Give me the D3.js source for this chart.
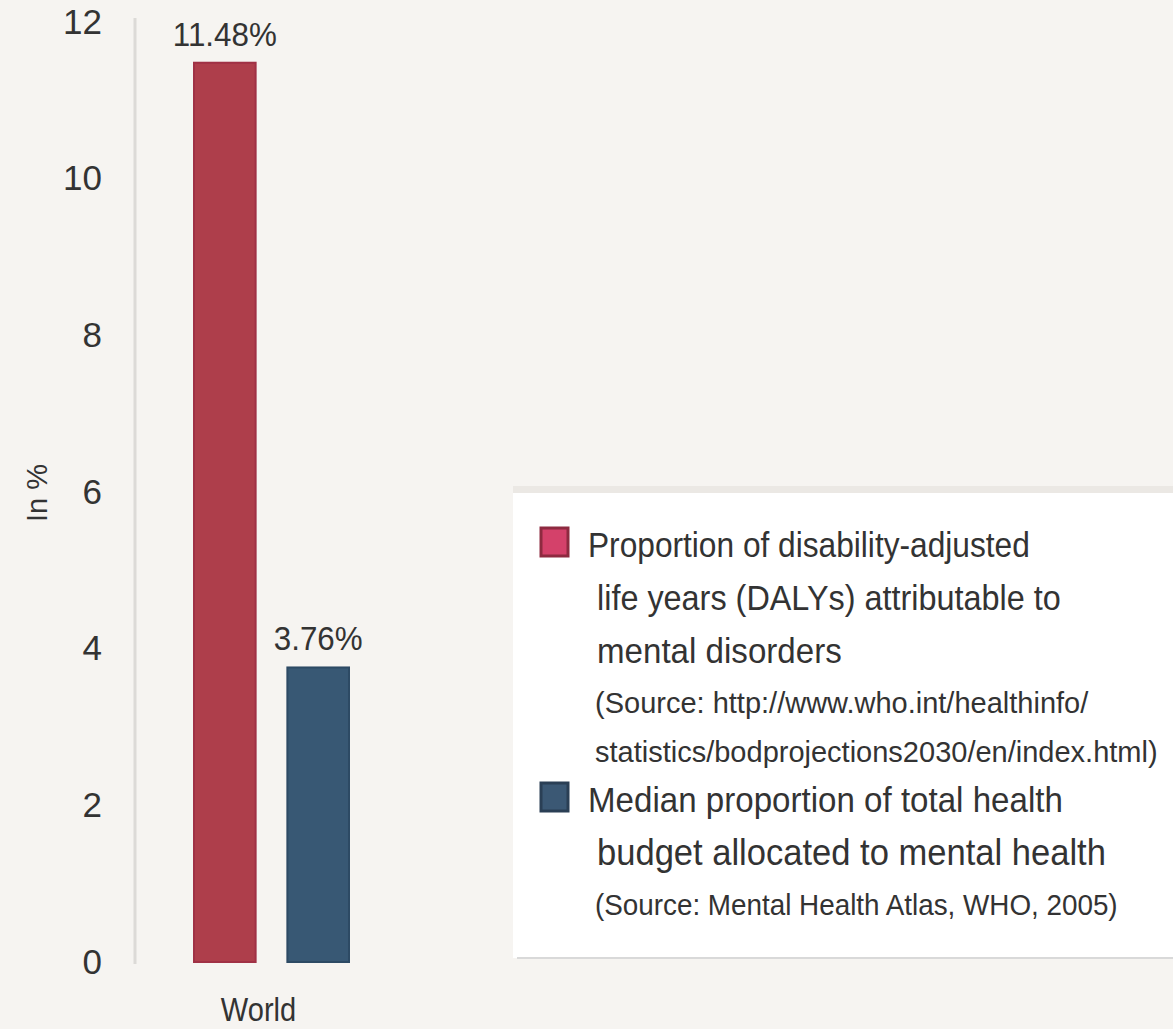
<!DOCTYPE html>
<html>
<head>
<meta charset="utf-8">
<script src="https://cdn.jsdelivr.net/npm/d3@7"></script>
<style>
  html, body { margin: 0; padding: 0; background: #f6f4f1; }
  svg { display: block; }
  text { font-family: 'Liberation Sans', Arial, sans-serif; fill: #333; }
</style>
</head>
<body>
<svg id="chart" width="1173" height="1029"></svg>
<script>
// Data
const categories = ["World"];
const seriesKeys = ["dalys", "budget"];
const dalysValues = [11.48];   // % of DALYs attributable to mental disorders
const budgetValues = [3.76];   // median % of health budget spent on mental health
const yTickValues = [0, 2, 4, 6, 8, 10, 12];
const yAxisTitle = "In %";

const legendDalysLines = ["Proportion of disability-adjusted", "life years (DALYs) attributable to", "mental disorders"];
const legendDalysSource = ["(Source: http://www.who.int/healthinfo/", "statistics/bodprojections2030/en/index.html)"];
const legendBudgetLines = ["Median proportion of total health", "budget allocated to mental health"];
const legendBudgetSource = ["(Source: Mental Health Atlas, WHO, 2005)"];

const colors = { dalys: "#ae3e4b", budget: "#385874" };
const edgeColors = { dalys: "#a03145", budget: "#2d4a64" };

const svg = d3.select("#chart");

// Condensed-looking text: squeeze glyphs horizontally
function squeezed(sel, x, y, sx) {
  return sel.attr("transform", `translate(${x},${y}) scale(${sx},1)`);
}

// Scales
const y = d3.scaleLinear().domain([0, 12]).range([962, 22]);
const x0 = d3.scaleBand().domain(categories).range([194, 349]);
const x1 = d3.scaleBand().domain(seriesKeys).range([0, x0.bandwidth()]).paddingInner(0.34);

const rows = categories.map((c, i) => ({ category: c, dalys: dalysValues[i], budget: budgetValues[i] }));

// Y axis: vertical rule plus tick labels
svg.append("line")
  .attr("x1", 135).attr("x2", 135)
  .attr("y1", y(12) - 4).attr("y2", y(0) + 2)
  .attr("stroke", "#dcdad7").attr("stroke-width", 3);

const yAxis = svg.append("g")
  .attr("transform", "translate(135,0)")
  .call(d3.axisLeft(y).tickValues(yTickValues).tickSize(0).tickPadding(33).tickFormat(d3.format("d")));
yAxis.select(".domain").remove();
yAxis.selectAll("text")
  .style("font-family", "'Liberation Sans', Arial, sans-serif")
  .style("font-size", "35px").attr("fill", "#333");

svg.append("text")
  .attr("transform", "translate(47,493) rotate(-90)")
  .attr("text-anchor", "middle")
  .style("font-size", "29px")
  .text(yAxisTitle);

// Bars
const groups = svg.selectAll("g.cat").data(rows).join("g")
  .attr("class", "cat")
  .attr("transform", d => `translate(${x0(d.category)},0)`);

const bars = groups.selectAll("g.bar")
  .data(d => seriesKeys.map(k => ({ key: k, value: d[k] })))
  .join("g").attr("class", "bar");

bars.append("rect")
  .attr("x", d => x1(d.key))
  .attr("y", d => y(d.value))
  .attr("width", x1.bandwidth())
  .attr("height", d => y(0) - y(d.value))
  .attr("fill", d => colors[d.key])
  .attr("stroke", d => edgeColors[d.key])
  .attr("stroke-width", 2);

bars.append("text")
  .attr("text-anchor", "middle")
  .style("font-size", "33px")
  .each(function (d) {
    squeezed(d3.select(this), x1(d.key) + x1.bandwidth() / 2, y(d.value) - 17, 0.95);
  })
  .text(d => d3.format(".2f")(d.value) + "%");

// Category label
svg.selectAll("text.cat").data(categories).join("text")
  .attr("class", "cat")
  .attr("text-anchor", "middle")
  .style("font-size", "33px")
  .each(function (d) {
    squeezed(d3.select(this), x0(d) + x0.bandwidth() / 2 - 13, 1021, 0.88);
  })
  .text(d => d);

// Legend panel
const legend = svg.append("g");
legend.append("rect")
  .attr("x", 513).attr("y", 486).attr("width", 660).attr("height", 7)
  .attr("fill", "#ebe8e4");
legend.append("rect")
  .attr("x", 513).attr("y", 493).attr("width", 660).attr("height", 465)
  .attr("fill", "#ffffff");
legend.append("line")
  .attr("x1", 517).attr("x2", 1173).attr("y1", 958).attr("y2", 958)
  .attr("stroke", "#d9d9d9").attr("stroke-width", 2);

function legendEntry(key, top, lines, sources, lineSqueeze, srcSqueeze) {
  legend.append("rect")
    .attr("x", 541).attr("y", top - 29).attr("width", 27).attr("height", 28)
    .attr("fill", key === "dalys" ? "#d4416a" : "#3b5874")
    .attr("stroke", key === "dalys" ? "#8e2a40" : "#2a3f55")
    .attr("stroke-width", 3);
  lines.forEach((t, i) => {
    squeezed(legend.append("text"), i === 0 ? 588 : 597, top + i * 53, lineSqueeze[i])
      .style("font-size", "36px")
      .text(t);
  });
  const srcTop = top + lines.length * 53 - 3;
  sources.forEach((t, i) => {
    squeezed(legend.append("text"), 595, srcTop + i * 49, srcSqueeze[i])
      .style("font-size", "29px")
      .text(t);
  });
}
legendEntry("dalys", 557, legendDalysLines, legendDalysSource, [0.88, 0.9, 0.92], [1.0, 1.0]);
legendEntry("budget", 812, legendBudgetLines, legendBudgetSource, [0.92, 0.96], [0.96]);
</script>
</body>
</html>
